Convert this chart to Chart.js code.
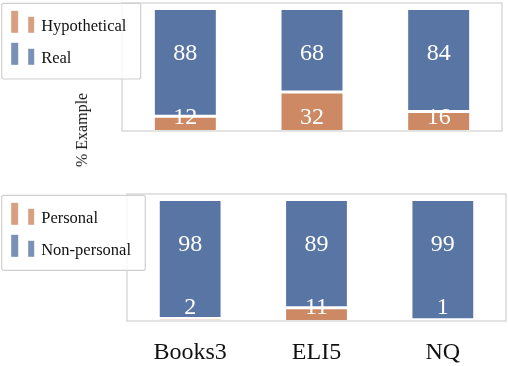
<!DOCTYPE html>
<html>
<head>
<meta charset="utf-8">
<script src="https://cdn.jsdelivr.net/npm/chart.js@4.4.0/dist/chart.umd.min.js"></script>
<style>
  body { margin: 0; background: #fff; width: 508px; height: 366px; position: relative; overflow: hidden; }
  canvas { position: absolute; left: 0; }
  #topChart { top: 0; }
  #bottomChart { top: 183px; }
  #ylabel {
    position: absolute; left: 82px; top: 130px;
    transform: translate(-50%, -50%) rotate(-90deg);
    font: 16px "Liberation Serif"; color: #111; white-space: nowrap;
  }
</style>
</head>
<body>
<canvas id="topChart" width="508" height="183"></canvas>
<canvas id="bottomChart" width="508" height="183"></canvas>
<div id="ylabel">% Example</div>
<script>
// data
const categories = ['Books3', 'ELI5', 'NQ'];
const hypothetical = [12, 32, 16];
const real = [88, 68, 84];
const personal = [2, 11, 1];
const nonPersonal = [98, 89, 99];

const BLUE = '#5975A4';
const ORANGE = '#CC8963';
const SERIF = '"Liberation Serif", "Times New Roman", serif';

// frame, value labels and the boxed legend drawn over the plot
const panelDecor = {
  id: 'panelDecor',
  afterDatasetsDraw(chart, args, opts) {
    const { ctx, chartArea: a, scales } = chart;
    ctx.save();
    ctx.strokeStyle = '#d4d4d4';
    ctx.lineWidth = 1.3;
    ctx.strokeRect(a.left, a.top, a.right - a.left, a.bottom - a.top);

    ctx.fillStyle = '#fff';
    ctx.font = '24px ' + SERIF;
    ctx.textAlign = 'center';
    ctx.textBaseline = 'middle';
    chart.data.datasets.forEach((ds, i) => {
      const y = scales.y.getPixelForValue(i === 0 ? opts.lowAt : opts.highAt);
      ds.data.forEach((v, j) => {
        ctx.fillText(String(v), scales.x.getPixelForValue(j), y + 1);
      });
    });
    ctx.restore();
  },
  afterDraw(chart, args, opts) {
    const ctx = chart.ctx;
    const b = opts.box;
    ctx.save();
    ctx.fillStyle = 'rgba(255,255,255,0.8)';
    ctx.strokeStyle = '#d0d0d0';
    ctx.lineWidth = 1.2;
    ctx.beginPath();
    ctx.roundRect(b.x, b.y, b.w, b.h, 2);
    ctx.fill();
    ctx.stroke();

    ctx.font = '16.5px ' + SERIF;
    ctx.textAlign = 'left';
    ctx.textBaseline = 'alphabetic';
    chart.data.datasets.forEach((ds, i) => {
      const bottom = b.y + 29.5 + i * 32;
      ctx.globalAlpha = 0.8;
      ctx.fillStyle = ds.backgroundColor;
      ctx.fillRect(b.x + 9.5, bottom - 22, 7, 22);
      ctx.fillRect(b.x + 26.5, bottom - 16, 6, 16);
      ctx.globalAlpha = 1;
      ctx.fillStyle = '#111';
      ctx.fillText(ds.label, b.x + 39.5, bottom - 1.5);
    });
    ctx.restore();
  }
};

function makePanel(canvasId, lowLabel, highLabel, low, high, showTicks, padding, box) {
  return new Chart(document.getElementById(canvasId), {
    type: 'bar',
    data: {
      labels: categories,
      datasets: [
        {
          label: lowLabel,
          data: low,
          backgroundColor: ORANGE,
          borderColor: '#fff',
          borderWidth: { top: 1.5, bottom: 1, left: 1.5, right: 1.5 },
          borderSkipped: false
        },
        {
          label: highLabel,
          data: high,
          backgroundColor: BLUE,
          borderColor: '#fff',
          borderWidth: { top: 1, bottom: 1.5, left: 1.5, right: 1.5 },
          borderSkipped: false
        }
      ]
    },
    options: {
      responsive: false,
      animation: false,
      devicePixelRatio: 1,
      barPercentage: 0.505,
      categoryPercentage: 1,
      layout: { padding: padding },
      plugins: {
        legend: { display: false },
        tooltip: { enabled: false },
        panelDecor: { lowAt: 11.5, highAt: 64, box: box }
      },
      scales: {
        x: {
          stacked: true,
          display: showTicks,
          grid: { display: false, drawTicks: false },
          border: { display: false },
          ticks: { color: '#111', padding: 17, maxRotation: 0, font: { family: SERIF, size: 24 } },
          afterFit(scale) { scale.height = showTicks ? 45 : 0; }
        },
        y: { stacked: true, display: false, min: 0, max: 105 }
      }
    },
    plugins: [panelDecor]
  });
}

makePanel('topChart', 'Hypothetical', 'Real', hypothetical, real, false,
  { left: 122, right: 6, top: 3, bottom: 52 },
  { x: 1.7, y: 3.3, w: 139, h: 75.7 });

makePanel('bottomChart', 'Personal', 'Non-personal', personal, nonPersonal, true,
  { left: 127, right: 2, top: 11, bottom: 0 },
  { x: 1.7, y: 12.3, w: 143.6, h: 75 });
</script>
</body>
</html>
